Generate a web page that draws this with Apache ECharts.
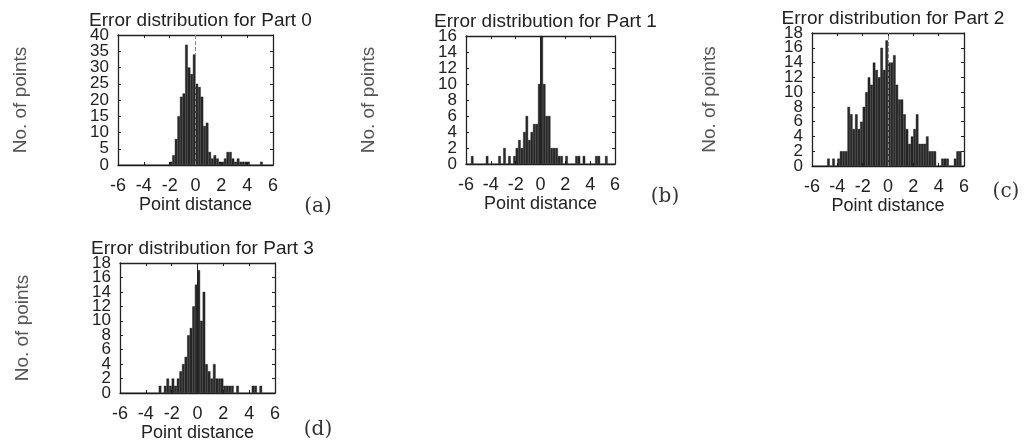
<!DOCTYPE html>
<html lang="en">
<head>
    <meta charset="UTF-8">
    <title>Error distribution</title>
    <script src="https://cdn.jsdelivr.net/npm/echarts@6/dist/echarts.min.js"></script>
    <style>
        html, body { margin: 0; padding: 0; background: #fff; }
        #chart { width: 1030px; height: 448px; }
    </style>
</head>
<body>
    <div id="chart"></div>
    <script>
        // bin centres (width 0.2) shared by all four histograms
        var binCenters = [
            -5.9, -5.7, -5.5, -5.3, -5.1, -4.9, -4.7, -4.5, -4.3, -4.1,
            -3.9, -3.7, -3.5, -3.3, -3.1, -2.9, -2.7, -2.5, -2.3, -2.1,
            -1.9, -1.7, -1.5, -1.3, -1.1, -0.9, -0.7, -0.5, -0.3, -0.1,
            0.1, 0.3, 0.5, 0.7, 0.9, 1.1, 1.3, 1.5, 1.7, 1.9,
            2.1, 2.3, 2.5, 2.7, 2.9, 3.1, 3.3, 3.5, 3.7, 3.9,
            4.1, 4.3, 4.5, 4.7, 4.9, 5.1, 5.3, 5.5, 5.7, 5.9
        ];

        var part0Counts = [
            0, 0, 0, 0, 0, 0, 0, 0, 0, 0,
            0, 0, 0, 0, 0, 0, 0, 0, 0, 0,
            1, 3, 8, 15, 21, 22, 37, 30, 28, 34,
            25, 24, 21, 12, 13, 4, 2, 3, 2, 1,
            1, 2, 4, 4, 2, 1, 2, 1, 1, 1,
            1, 0, 0, 0, 0, 1, 0, 0, 0, 0
        ];
        var part1Counts = [
            0, 0, 1, 0, 0, 0, 0, 0, 1, 0,
            0, 0, 0, 1, 0, 2, 0, 1, 0, 1,
            2, 3, 2, 4, 6, 3, 4, 5, 5, 10,
            16, 10, 6, 6, 2, 2, 2, 1, 1, 0,
            1, 0, 0, 0, 1, 1, 0, 1, 0, 0,
            0, 0, 1, 1, 0, 0, 1, 0, 0, 0
        ];
        var part2Counts = [
            0, 0, 0, 0, 0, 0, 1, 0, 1, 0,
            1, 2, 2, 2, 8, 7, 5, 7, 5, 6,
            8, 10, 12, 11, 14, 13, 12, 16, 13, 17,
            14, 14, 15, 11, 9, 9, 7, 5, 3, 4,
            5, 7, 3, 3, 3, 4, 2, 2, 2, 0,
            0, 1, 1, 1, 0, 0, 1, 2, 2, 0
        ];
        var part3Counts = [
            0, 0, 0, 0, 0, 0, 0, 0, 0, 0,
            0, 0, 0, 0, 0, 1, 0, 1, 2, 1,
            2, 1, 2, 3, 4, 5, 8, 9, 12, 15,
            17, 10, 14, 4, 3, 2, 4, 2, 2, 2,
            1, 1, 1, 1, 0, 1, 0, 0, 0, 0,
            0, 1, 1, 0, 1, 0, 0, 0, 0, 0
        ];

        var panelTitles = ['Error distribution for Part 0', 'Error distribution for Part 1',
                           'Error distribution for Part 2', 'Error distribution for Part 3'];
        var panelTags = ['(a)', '(b)', '(c)', '(d)'];
        var yMax = [40, 16, 18, 18];
        var yStep = [5, 2, 2, 2];

        var panels = [
            { counts: part0Counts, grid: { left: 118, top: 35, width: 155, height: 130 }, dashed: true, tag: [318, 207] },
            { counts: part1Counts, grid: { left: 466, top: 36, width: 149, height: 128 }, dashed: false, tag: [665, 197] },
            { counts: part2Counts, grid: { left: 812, top: 33, width: 152, height: 133 }, dashed: true, tag: [1006, 192] },
            { counts: part3Counts, grid: { left: 120, top: 263, width: 155, height: 130 }, dashed: false, tag: [318, 430] }
        ];

        var font = 'Liberation Sans';
        var ink = '#222';

        var grids = [], xAxes = [], yAxes = [], series = [], titles = [], graphics = [];

        panels.forEach(function (p, i) {
            var g = p.grid;
            grids.push({ left: g.left, top: g.top, width: g.width, height: g.height,
                         outerBoundsMode: 'none', containLabel: false });

            titles.push({
                text: panelTitles[i],
                left: g.left + g.width / 2,
                top: g.top - 29,
                textAlign: 'center',
                textStyle: { fontFamily: font, fontSize: 19, fontWeight: 'normal', color: ink }
            });

            var tick = { show: true, inside: true, length: 3, lineStyle: { color: ink } };
            var line = { show: true, onZero: false, lineStyle: { color: ink, width: 1.3 } };

            xAxes.push({
                type: 'value', gridIndex: i, position: 'bottom',
                min: -6, max: 6, interval: 2,
                axisLine: line, axisTick: tick, splitLine: { show: false },
                axisLabel: { fontFamily: font, fontSize: 18, color: ink, margin: 12,
                             showMinLabel: true, showMaxLabel: true, hideOverlap: false },
                name: 'Point distance', nameLocation: 'middle', nameGap: 28,
                nameTextStyle: { fontFamily: font, fontSize: 18, color: ink }
            });
            xAxes.push({
                type: 'value', gridIndex: i, position: 'top',
                min: -6, max: 6, interval: 2,
                axisLine: line, axisTick: tick, splitLine: { show: false },
                axisLabel: { show: false }
            });

            // labels are split over two overlaid left axes (even / odd ticks)
            // so the crowded labels all stay visible, as in the original
            var step = yStep[i];
            function labelStyle(parity) {
                return {
                    fontFamily: font, fontSize: 17, color: ink, margin: 9, interval: 0,
                    showMinLabel: true, showMaxLabel: true, hideOverlap: false,
                    formatter: function (v) {
                        return Math.round(v / step) % 2 === parity ? String(v) : '';
                    }
                };
            }
            yAxes.push({
                type: 'value', gridIndex: i, position: 'left',
                min: 0, max: yMax[i], interval: step,
                axisLine: line, axisTick: tick, splitLine: { show: false },
                axisLabel: labelStyle(0),
                name: 'No. of points', nameLocation: 'middle', nameGap: i === 2 ? 93 : 88,
                nameTextStyle: { fontFamily: font, fontSize: 19, color: '#555' }
            });
            yAxes.push({
                type: 'value', gridIndex: i, position: 'right',
                min: 0, max: yMax[i], interval: step,
                axisLine: line, axisTick: tick, splitLine: { show: false },
                axisLabel: { show: false }
            });
            yAxes.push({
                type: 'value', gridIndex: i, position: 'left', offset: 0,
                min: 0, max: yMax[i], interval: step,
                axisLine: { show: false }, axisTick: { show: false }, splitLine: { show: false },
                axisLabel: labelStyle(1)
            });

            var data = binCenters.map(function (c, k) { return [c, p.counts[k]]; });
            series.push({
                type: 'bar',
                xAxisIndex: i * 2,
                yAxisIndex: i * 3,
                data: data,
                barWidth: '100%',
                itemStyle: { color: '#2a2a2a', borderColor: '#111', borderWidth: 0.4 },
                markLine: {
                    silent: true,
                    symbol: 'none',
                    label: { show: false },
                    lineStyle: { color: p.dashed ? '#888' : '#222', type: p.dashed ? 'dashed' : 'solid', width: 1 },
                    data: [{ xAxis: 0 }]
                }
            });

            graphics.push({
                type: 'text',
                x: p.tag[0], y: p.tag[1],
                style: {
                    text: panelTags[i],
                    font: '20px "DejaVu Serif"',
                    fill: '#333',
                    textAlign: 'center',
                    textVerticalAlign: 'middle'
                }
            });
        });

        var chart = echarts.init(document.getElementById('chart'));
        chart.setOption({
            backgroundColor: '#fff',
            animation: false,
            title: titles,
            grid: grids,
            xAxis: xAxes,
            yAxis: yAxes,
            series: series,
            graphic: graphics
        });
    </script>
</body>
</html>
